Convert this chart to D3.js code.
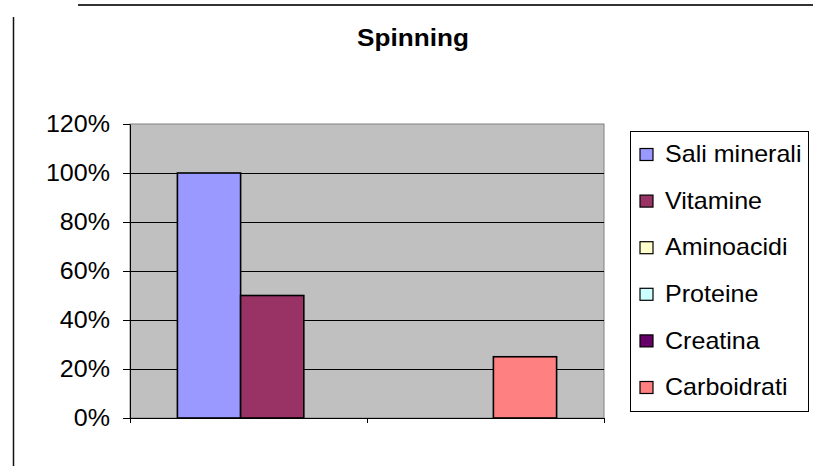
<!DOCTYPE html>
<html>
<head>
<meta charset="utf-8">
<script src="https://cdn.jsdelivr.net/npm/d3@7"></script>
<style>
  html, body { margin: 0; padding: 0; background: #fff; }
  svg { display: block; font-family: "Liberation Sans", Arial, sans-serif; }
</style>
</head>
<body>
<svg id="chart" width="813" height="466"></svg>
<script>
// Series shown in the legend and drawn as bars
const seriesNames = ["Sali minerali", "Vitamine", "Aminoacidi", "Proteine", "Creatina", "Carboidrati"];
const seriesValues = [1.00, 0.50, 0, 0, 0, 0.25];
const seriesColors = ["#9999FF", "#993366", "#FFFFCC", "#CCFFFF", "#660066", "#FF8080"];
const yTicks = [0, 0.2, 0.4, 0.6, 0.8, 1.0, 1.2];
const chartTitle = "Spinning";

const svg = d3.select("#chart");
const stretch = 1.09; // text is drawn slightly wide

const plot = { left: 130, right: 604, top: 124, bottom: 418 };

const x = d3.scaleBand()
  .domain(seriesNames)
  .range([plot.left, plot.right])
  .paddingInner(0)
  .paddingOuter(0.75);

const y = d3.scaleLinear()
  .domain([0, 1.2])
  .range([plot.bottom, plot.top]);

// category boundaries along the bottom axis
const xCat = d3.scaleLinear().domain([0, 2]).range([plot.left, plot.right]);

// outer frame lines
svg.append("line")
  .attr("x1", 78).attr("x2", 813).attr("y1", 5).attr("y2", 5)
  .attr("stroke", "#333").attr("stroke-width", 2);
svg.append("line")
  .attr("x1", 13.5).attr("x2", 13.5).attr("y1", 17).attr("y2", 466)
  .attr("stroke", "#111").attr("stroke-width", 1.5);

// title
svg.append("text")
  .attr("transform", `translate(413,46) scale(${stretch},1)`)
  .attr("text-anchor", "middle")
  .attr("font-size", 24).attr("font-weight", "bold")
  .attr("fill", "#000")
  .text(chartTitle);

// plot background
svg.append("rect")
  .attr("x", plot.left).attr("y", plot.top)
  .attr("width", plot.right - plot.left).attr("height", plot.bottom - plot.top)
  .attr("fill", "#C0C0C0")
  .attr("stroke", "#808080").attr("stroke-width", 1);

// gridlines
svg.append("g")
  .selectAll("line")
  .data(yTicks.filter(d => d > 0 && d < 1.2))
  .join("line")
  .attr("x1", plot.left).attr("x2", plot.right)
  .attr("y1", d => Math.round(y(d)) + 0.5).attr("y2", d => Math.round(y(d)) + 0.5)
  .attr("stroke", "#000").attr("stroke-width", 1);

// bars
svg.append("g")
  .selectAll("rect")
  .data(seriesNames.map((n, i) => ({ name: n, value: seriesValues[i], color: seriesColors[i] })).filter(d => d.value > 0))
  .join("rect")
  .attr("x", d => x(d.name))
  .attr("y", d => y(d.value))
  .attr("width", x.bandwidth())
  .attr("height", d => y(0) - y(d.value))
  .attr("fill", d => d.color)
  .attr("stroke", "#000").attr("stroke-width", 1.6);

// y axis
const yAxis = svg.append("g")
  .attr("transform", `translate(${plot.left},0)`)
  .call(d3.axisLeft(y).tickValues(yTicks).tickSize(7).tickSizeOuter(0).tickFormat(() => ""));
yAxis.select(".domain").attr("stroke", "#000");
yAxis.selectAll(".tick line").attr("stroke", "#000");

svg.append("g")
  .selectAll("text")
  .data(yTicks)
  .join("text")
  .attr("transform", d => `translate(110,${y(d)}) scale(${stretch},1)`)
  .attr("dy", "0.36em")
  .attr("text-anchor", "end")
  .attr("font-size", 23)
  .attr("fill", "#000")
  .text(d => d3.format(".0%")(d));

// x axis
const xAxis = svg.append("g")
  .attr("transform", `translate(0,${plot.bottom})`)
  .call(d3.axisBottom(xCat).ticks(2).tickSize(5).tickSizeOuter(0).tickFormat(() => ""));
xAxis.select(".domain").attr("stroke", "#000");
xAxis.selectAll(".tick line").attr("stroke", "#000");

// legend
const legend = { left: 630, top: 131, right: 808, bottom: 411 };
svg.append("rect")
  .attr("x", legend.left + 0.5).attr("y", legend.top + 0.5)
  .attr("width", legend.right - legend.left).attr("height", legend.bottom - legend.top)
  .attr("fill", "#fff").attr("stroke", "#000").attr("stroke-width", 1);

const rowY = d3.scalePoint().domain(seriesNames).range([154, 387]);
const items = svg.append("g")
  .selectAll("g")
  .data(seriesNames.map((n, i) => ({ name: n, color: seriesColors[i] })))
  .join("g")
  .attr("transform", d => `translate(0,${rowY(d.name)})`);

items.append("rect")
  .attr("x", 640).attr("y", -5.5)
  .attr("width", 13).attr("height", 12)
  .attr("fill", d => d.color)
  .attr("stroke", "#000").attr("stroke-width", 1.2);

items.append("text")
  .attr("transform", `translate(665,0) scale(${stretch},1)`)
  .attr("dy", "0.36em")
  .attr("font-size", 23)
  .attr("fill", "#000")
  .text(d => d.name);
</script>
</body>
</html>
